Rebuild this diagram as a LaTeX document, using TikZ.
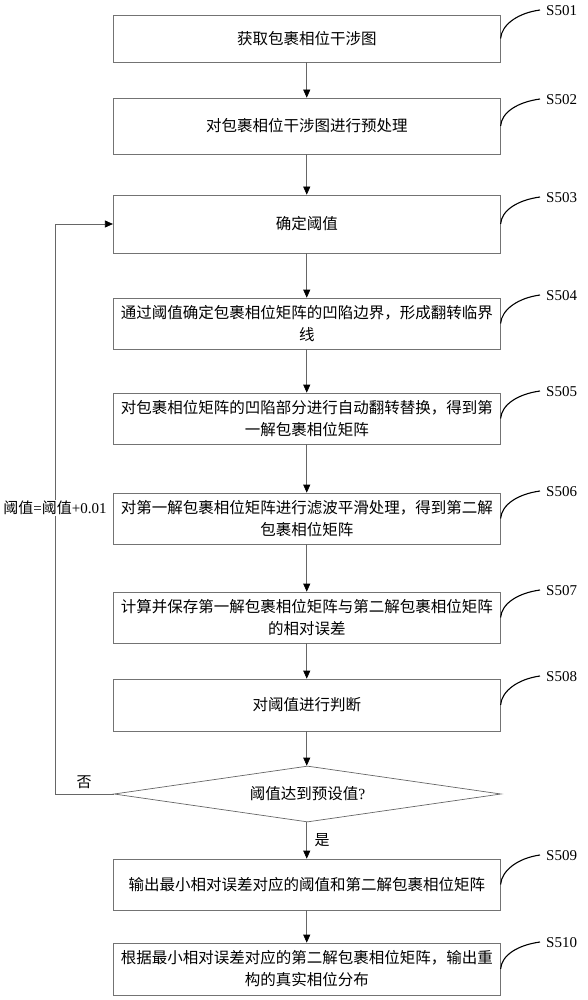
\documentclass[tikz,border=0pt]{standalone}
\usepackage{fontspec}
\setmainfont{Liberation Serif}
\newfontfamily\cjk{Noto Sans CJK SC}
\usetikzlibrary{arrows.meta,shapes.geometric,calc}
\begin{document}
\begin{tikzpicture}[x=1pt,y=-1pt,
  stepbox/.style={draw=black!55, line width=0.7pt, minimum width=387pt, inner sep=0pt,
    align=center, font=\cjk\fontsize{15.5}{22}\selectfont},
  decide/.style={draw=black!60, line width=0.7pt, shape=diamond, aspect=6.9, inner sep=0pt,
    minimum width=387pt, minimum height=56pt, font=\fontsize{15.5}{22}\selectfont},
  flow/.style={draw=black!60, line width=0.7pt, -{Triangle[length=8pt,width=7pt,color=black]}},
  tag/.style={draw=black, line width=1.1pt},
  taglabel/.style={anchor=west, inner sep=1pt, font=\fontsize{15}{16}\selectfont},
  note/.style={inner sep=1pt, font=\fontsize{15}{18}\selectfont}
]
\useasboundingbox (0,0) rectangle (587,1000);

\node[stepbox, minimum height=47pt] (s1) at (306.75,38.5) {获取包裹相位干涉图};
\node[stepbox, minimum height=56pt] (s2) at (306.75,126) {对包裹相位干涉图进行预处理};
\node[stepbox, minimum height=58pt] (s3) at (306.75,224) {确定阈值};
\node[stepbox, minimum height=51pt] (s4) at (306.75,323.5) {通过阈值确定包裹相位矩阵的凹陷边界，形成翻转临界\\线};
\node[stepbox, minimum height=51pt] (s5) at (306.75,418.5) {对包裹相位矩阵的凹陷部分进行自动翻转替换，得到第\\一解包裹相位矩阵};
\node[stepbox, minimum height=51pt] (s6) at (306.75,518.5) {对第一解包裹相位矩阵进行滤波平滑处理，得到第二解\\包裹相位矩阵};
\node[stepbox, minimum height=51pt] (s7) at (306.75,617.5) {计算并保存第一解包裹相位矩阵与第二解包裹相位矩阵\\的相对误差};
\node[stepbox, minimum height=52pt] (s8) at (306.75,705) {对阈值进行判断};
\node[decide] (d) at (307.5,794) {{\cjk 阈值达到预设值}?};
\node[stepbox, minimum height=51pt] (s9) at (306.75,884.5) {输出最小相对误差对应的阈值和第二解包裹相位矩阵};
\node[stepbox, minimum height=52pt] (s10) at (306.75,969) {根据最小相对误差对应的第二解包裹相位矩阵，输出重\\构的真实相位分布};

% step tags
\foreach \n/\t/\y in {s1/S501/10, s2/S502/99, s3/S503/197, s4/S504/295, s5/S505/391,
                      s6/S506/491, s7/S507/590, s8/S508/676, s9/S509/855, s10/S510/942} {
  \coordinate (t\n) at (540,\y);
  \draw[tag] (\n.east) .. controls ($(\n.east)+(1,-14)$) and ($(t\n)+(-22,3)$) .. (t\n);
  \node[taglabel] (l\n) at ($(t\n)+(5,1)$) {\t};
}

% flow arrows
\draw[flow] (s1.south) -- (s2.north);
\draw[flow] (s2.south) -- (s3.north);
\draw[flow] (s3.south) -- (s4.north);
\draw[flow] (s4.south) -- (s5.north);
\draw[flow] (s5.south) -- (s6.north);
\draw[flow] (s6.south) -- (s7.north);
\draw[flow] (s7.south) -- (s8.north);
\draw[flow] (s8.south) -- (s8.south |- d.north);
\draw[flow] (s9.north |- d.south) -- (s9.north);
\draw[flow] (s9.south) -- (s10.north);

% loop back
\draw[flow] (d.west) -- ++(-58,0) |- (s3.west);
\node[note, fill=white] (inc) at (55,508) {{\cjk 阈值}={\cjk 阈值}+0.01};
\node[note] (no) at (84,782) {\cjk 否};
\node[note] (yes) at (322,840) {\cjk 是};
\end{tikzpicture}
\end{document}
